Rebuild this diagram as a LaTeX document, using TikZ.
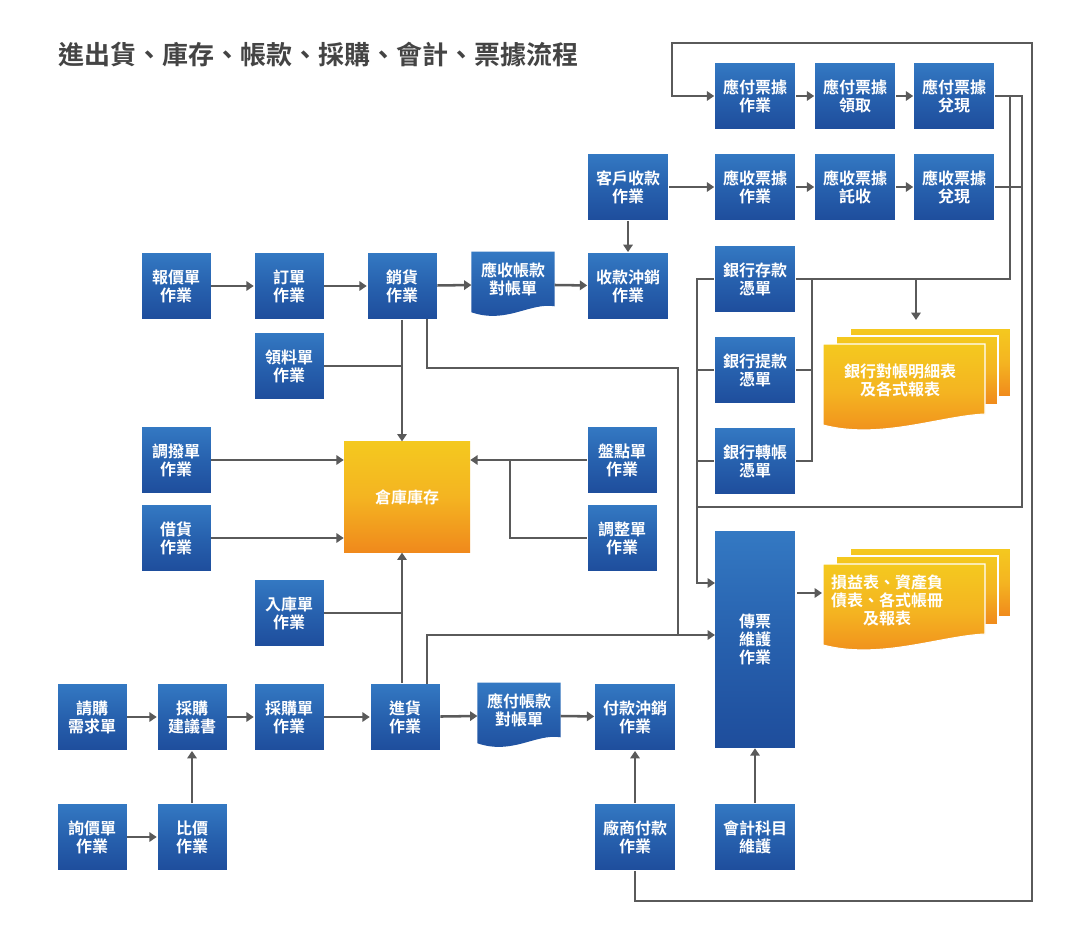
\documentclass[tikz,border=0pt]{standalone}
\usepackage{fontspec}
\setmainfont{Liberation Sans}
\newfontfamily\cjk{Noto Sans CJK TC}[BoldFont={Noto Sans CJK TC Bold}]
\usetikzlibrary{arrows.meta,calc,backgrounds}
\definecolor{ln}{HTML}{5A5A5A}
\definecolor{bt}{HTML}{3479C3}
\definecolor{bm}{HTML}{2761AE}
\definecolor{bb}{HTML}{1E4D9C}
\definecolor{ot}{HTML}{F4C91F}
\definecolor{om}{HTML}{F4B421}
\definecolor{ob}{HTML}{F0891C}
\definecolor{tt}{HTML}{444444}
\begin{document}
\begin{tikzpicture}[x=0.75pt,y=-0.75pt,
 every node/.style={font=\cjk\bfseries\fontsize{12pt}{13.5pt}\selectfont,text=white,align=center,inner sep=0pt},
 bx/.style={rectangle,top color=bt,bottom color=bb,middle color=bm,draw=white,line width=0.4pt,minimum width=60.75pt,minimum height=50.5pt},
 sbx/.style={bx,minimum width=52.5pt},
 docn/.style={minimum width=62pt,minimum height=49.5pt},
 ln/.style={draw=ln,line width=1.9pt},
 arr/.style={ln,-{Triangle[width=7pt,length=5.5pt]}},
 shfill/.style={top color=ot,bottom color=ob,middle color=om}]
\begin{scope}[on background layer]
\fill[white] (0,0) rectangle (1080,934);
\end{scope}
\useasboundingbox (0,0) rectangle (1080,934);
\node[anchor=west,text=tt,font=\cjk\bfseries\fontsize{19.5pt}{22pt}\selectfont] (title) at (58,55) {進出貨、庫存、帳款、採購、會計、票據流程};
% top rows
\node[bx] (pz) at (755,96) {應付票據\\作業};
\node[bx] (pq) at (855,96) {應付票據\\領取};
\node[bx] (pd) at (954,96) {應付票據\\兌現};
\node[bx] (ks) at (628,187) {客戶收款\\作業};
\node[bx] (rz) at (755,187) {應收票據\\作業};
\node[bx] (rt) at (855,187) {應收票據\\託收};
\node[bx] (rd) at (954,187) {應收票據\\兌現};
\node[bx] (sk) at (628,286) {收款沖銷\\作業};
\node[sbx] (bj) at (176,286) {報價單\\作業};
\node[sbx] (dd) at (289,286) {訂單\\作業};
\node[sbx] (xh) at (402,286) {銷貨\\作業};
\node[docn] (ar) at (513,285) {};
\node[sbx] (ll) at (289,366) {領料單\\作業};
\node[bx] (b1) at (755,279) {銀行存款\\憑單};
\node[bx] (b2) at (755,370) {銀行提款\\憑單};
\node[bx] (b3) at (755,461) {銀行轉帳\\憑單};
\node[rectangle,shfill,minimum width=94.5pt,minimum height=83pt] (inv) at (407,497) {倉庫庫存};
\node[sbx] (db) at (176,460) {調撥單\\作業};
\node[sbx] (jh) at (176,538) {借貨\\作業};
\node[sbx] (pc) at (622,460) {盤點單\\作業};
\node[sbx] (tz) at (622,538) {調整單\\作業};
\node[sbx] (rk) at (289,613) {入庫單\\作業};
\node[bx,minimum height=163.5pt] (cp) at (755,639) {傳票\\維護\\作業};
\node[sbx] (qg) at (92,717) {請購\\需求單};
\node[sbx] (jy) at (192,717) {採購\\建議書};
\node[sbx] (cg) at (289,717) {採購單\\作業};
\node[sbx] (jhuo) at (405,717) {進貨\\作業};
\node[docn] (ap) at (519,716) {};
\node[bx] (fk) at (635,717) {付款沖銷\\作業};
\node[sbx] (xj) at (92,837) {詢價單\\作業};
\node[sbx] (bja) at (192,837) {比價\\作業};
\node[bx] (cs) at (635,837) {廠商付款\\作業};
\node[bx] (km) at (755,837) {會計科目\\維護};
% document shapes
\foreach \n in {ar,ap}{
 \path[shfill,top color=bt,bottom color=bb,middle color=bm] (\n.north west) -- (\n.north east) -- ($(\n.south east)+(0,-12)$) .. controls ($(\n.south east)+(-25,-16)$) and ($(\n.south west)+(35,6)$) .. ($(\n.south west)+(0,-6)$) -- cycle;
}
\node at ($(ar)+(0,-6)$) {應收帳款\\對帳單};
\node at ($(ap)+(0,-6)$) {應付帳款\\對帳單};
% stacks
\foreach \dy/\nm in {0/s1,220/s2}{
 \path[shfill,draw=white,line width=0.8pt] (850,328+\dy) rectangle (1011,397+\dy);
 \path[shfill,draw=white,line width=0.8pt] (836,336+\dy) rectangle (998,405+\dy);
 \path[shfill,draw=white,line width=0.8pt] (823,344+\dy) -- (985,344+\dy) -- (985,414+\dy) .. controls (940,416+\dy) and (880,440+\dy) .. (823,425+\dy) -- cycle;
 \coordinate (\nm) at (900,380+\dy);
}
\node at (s1) {銀行對帳明細表\\及各式報表};
\node at ($(s2)+(-13,0)$) {損益表、資產負\\債表、各式帳冊\\及報表};
% coordinates
\coordinate (lp1) at (635,901);
\coordinate (lp2) at (1032,43);
\coordinate (lp3) at (672,96);
\coordinate (r1) at (1022,96);
\coordinate (r2) at (1022,507);
\coordinate (r3) at (697,507);
\coordinate (r4) at (1010,96);
\coordinate (lb) at (697,583);
\coordinate (cpin1) at (715,583);
\coordinate (cpin2) at (715,635);
\coordinate (rb1) at (812,279);
\coordinate (rb2) at (812,461);
\coordinate (st1) at (916,279);
\coordinate (st1e) at (916,320);
\coordinate (xo) at (427,319);
\coordinate (xo2) at (678,635);
\coordinate (jo) at (427,684);
\coordinate (cpo) at (797,593);
\coordinate (s2in) at (822,593);
\coordinate (tzb) at (510,460);
% connectors
\draw[arr] (bj) -- (dd);
\draw[arr] (dd) -- (xh);
\draw[arr] (xh) -- (ar.west);
\draw[arr] (ar.east) -- (sk);
\draw[arr] (ks) -- (sk);
\draw[arr] (ks) -- (rz);
\draw[arr] (rz) -- (rt);
\draw[arr] (rt) -- (rd);
\draw[arr] (pz) -- (pq);
\draw[arr] (pq) -- (pd);
\draw[arr] (qg) -- (jy);
\draw[arr] (jy) -- (cg);
\draw[arr] (cg) -- (jhuo);
\draw[arr] (jhuo) -- (ap.west);
\draw[arr] (ap.east) -- (fk);
\draw[arr] (xj) -- (bja);
\draw[arr] (bja) -- (jy);
\draw[arr] (cs) -- (fk);
\draw[arr] (km) -- (cp);
\draw[arr] (cs.south) |- (lp1) -| (lp2) -| (lp3) -- (pz.west);
\draw[ln] (pd.east) -- (r1) -- (r2) -- (r3);
\draw[ln] (rd.east) -- (rd.east -| r1);
\draw[ln] (b1.east) -- (r4 |- b1.east) -- (r4);
\draw[arr] (b1.west) -| (lb) -- (cpin1);
\draw[ln] (b2.west) -- (b2.west -| lb);
\draw[ln] (b3.west) -- (b3.west -| lb);
\draw[ln] (rb1) -- (rb2) -- (b3.east);
\draw[ln] (b2.east) -- (b2.east -| rb1);
\draw[arr] (st1) -- (st1e);
\draw[arr] (xh.south) -- (xh.south |- inv.north);
\draw[ln] (ll.east) -- (ll.east -| xh.south);
\draw[ln] (xo) |- (xo2 |- 0,368) -- (xo2);
\draw[arr] (jo) |- (cpin2);
\draw[arr] (db.east) -- (db.east -| inv.west);
\draw[arr] (jh.east) -- (jh.east -| inv.west);
\draw[arr] (pc.west) -- (pc.west -| inv.east);
\draw[ln] (tz.west) -| (tzb);
\draw[arr] (jhuo.north -| xh.south) -- (inv.south -| xh.south);
\draw[ln] (rk.east) -- (rk.east -| xh.south);
\draw[arr] (cpo) -- (s2in);
\end{tikzpicture}
\end{document}
